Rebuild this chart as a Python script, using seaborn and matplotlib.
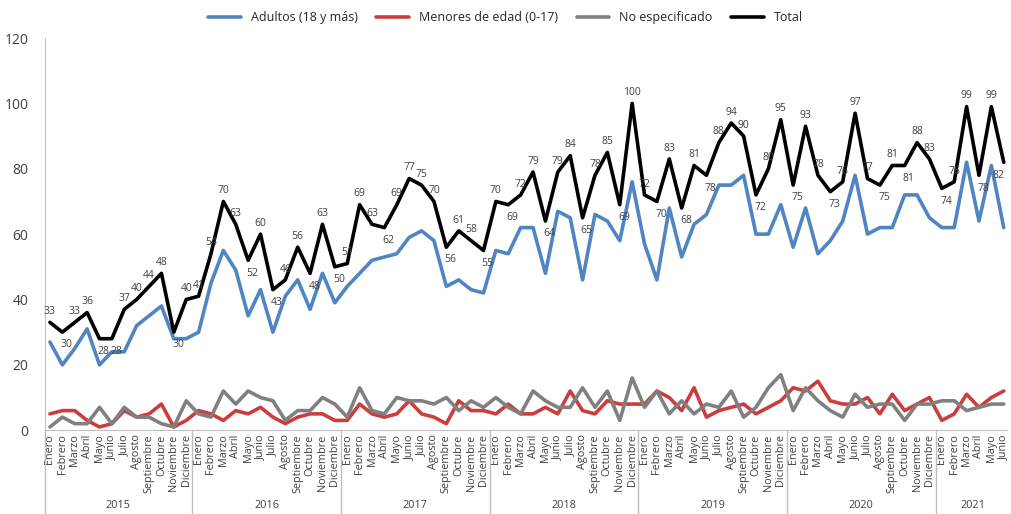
import numpy as np
import pandas as pd
import matplotlib
matplotlib.use("Agg")
import matplotlib.pyplot as plt
import matplotlib.transforms as mtransforms
import seaborn as sns

# monthly counts, Jan 2015 - Jun 2021
years = ["2015", "2016", "2017", "2018", "2019", "2020", "2021"]
meses = ["Enero", "Febrero", "Marzo", "Abril", "Mayo", "Junio", "Julio",
         "Agosto", "Septiembre", "Octubre", "Noviembre", "Diciembre"]
months_per_year = [12, 12, 12, 12, 12, 12, 6]

adultos = [27, 20, 25, 31, 20, 24, 24, 32, 35, 38, 28, 28,
           30, 45, 55, 49, 35, 43, 30, 41, 46, 37, 48, 39,
           44, 48, 52, 53, 54, 59, 61, 58, 44, 46, 43, 42,
           55, 54, 62, 62, 48, 67, 65, 46, 66, 64, 58, 76,
           57, 46, 68, 53, 63, 66, 75, 75, 78, 60, 60, 69,
           56, 68, 54, 58, 64, 78, 60, 62, 62, 72, 72, 65,
           62, 62, 82, 64, 81, 62]
menores = [5, 6, 6, 3, 1, 2, 6, 4, 5, 8, 1, 3,
           6, 5, 3, 6, 5, 7, 4, 2, 4, 5, 5, 3,
           3, 8, 5, 4, 5, 9, 5, 4, 2, 9, 6, 6,
           5, 8, 5, 5, 7, 5, 12, 6, 5, 9, 8, 8,
           8, 12, 10, 6, 13, 4, 6, 7, 8, 5, 7, 9,
           13, 12, 15, 9, 8, 8, 10, 5, 11, 6, 8, 10,
           3, 5, 11, 7, 10, 12]
no_especificado = [1, 4, 2, 2, 7, 2, 7, 4, 4, 2, 1, 9,
                   5, 4, 12, 8, 12, 10, 9, 3, 6, 6, 10, 8,
                   4, 13, 6, 5, 10, 9, 9, 8, 10, 6, 9, 7,
                   10, 7, 5, 12, 9, 7, 7, 13, 7, 12, 3, 16,
                   7, 12, 5, 9, 5, 8, 7, 12, 4, 7, 13, 17,
                   6, 13, 9, 6, 4, 11, 7, 8, 8, 3, 8, 8,
                   9, 9, 6, 7, 8, 8]
total = [33, 30, 33, 36, 28, 28, 37, 40, 44, 48, 30, 40,
         41, 54, 70, 63, 52, 60, 43, 46, 56, 48, 63, 50,
         51, 69, 63, 62, 69, 77, 75, 70, 56, 61, 58, 55,
         70, 69, 72, 79, 64, 79, 84, 65, 78, 85, 69, 100,
         72, 70, 83, 68, 81, 78, 88, 94, 90, 72, 80, 95,
         75, 93, 78, 73, 76, 97, 77, 75, 81, 81, 88, 83,
         74, 76, 99, 78, 99, 82]

month_labels = []
for n in months_per_year:
    month_labels += meses[:n]
idx = np.arange(len(total))

series = {
    "Adultos (18 y más)": adultos,
    "Menores de edad (0-17)": menores,
    "No especificado": no_especificado,
    "Total": total,
}
df = pd.concat([pd.DataFrame({"i": idx, "valor": v, "serie": k}) for k, v in series.items()])
colores = ["#5085C4", "#CC3D3D", "#808080", "#000000"]

sns.set_style("white")
plt.rcParams["font.family"] = ["Open Sans", "DejaVu Sans"]

fig = plt.figure(figsize=(10.11, 5.14), dpi=100)
ax = fig.add_axes([0.0445, 0.163, 0.952, 0.763])
sns.lineplot(data=df, x="i", y="valor", hue="serie", palette=colores,
             linewidth=2.6, ax=ax, legend=True)

# data labels on the total line
last = len(total) - 1
for i, v in enumerate(total):
    prev_v = total[i - 1] if i > 0 else v
    next_v = total[i + 1] if i < last else v
    if i == last:
        off = (-4, -11)
    elif v <= prev_v and v <= next_v:
        off = (3, -11)
    else:
        off = (0, 6)
    ax.annotate(str(v), (i, v), xytext=off, textcoords="offset points",
                ha="center", fontsize=7.5, color="#404040")

ax.set_xlim(-0.4, 77.3)
ax.set_ylim(0, 120)
ax.set_yticks(range(0, 121, 20))
ax.tick_params(axis="y", labelsize=10, colors="#404040", length=0, pad=12)
ax.set_xticks(idx)
ax.set_xticklabels(month_labels, rotation=90, fontsize=7.8, color="#404040")
ax.tick_params(axis="x", length=0, pad=3)
ax.set_xlabel("")
ax.set_ylabel("")
sns.despine(ax=ax)
for s in ["left", "bottom"]:
    ax.spines[s].set_color("#BFBFBF")

# year groups below the month labels
trans = mtransforms.blended_transform_factory(ax.transData, ax.transAxes)
start = 0
bounds = []
for y, n in zip(years, months_per_year):
    ax.text(start + (n - 1) / 2, -0.192, y, transform=trans, ha="center",
            va="center", fontsize=7.8, color="#404040")
    start += n
    bounds.append(start - 0.5)
for b in [-0.4] + bounds[:-1]:
    ax.plot([b, b], [0, -0.24], transform=trans, color="#BFBFBF",
            linewidth=1, clip_on=False)

handles, labels = ax.get_legend_handles_labels()
ax.get_legend().remove()
fig.legend(handles, labels, loc="center", bbox_to_anchor=(0.5, 0.965), ncol=4,
           frameon=False, fontsize=9, handlelength=2.6, columnspacing=1.5)

fig.savefig("out.png", dpi=100)
